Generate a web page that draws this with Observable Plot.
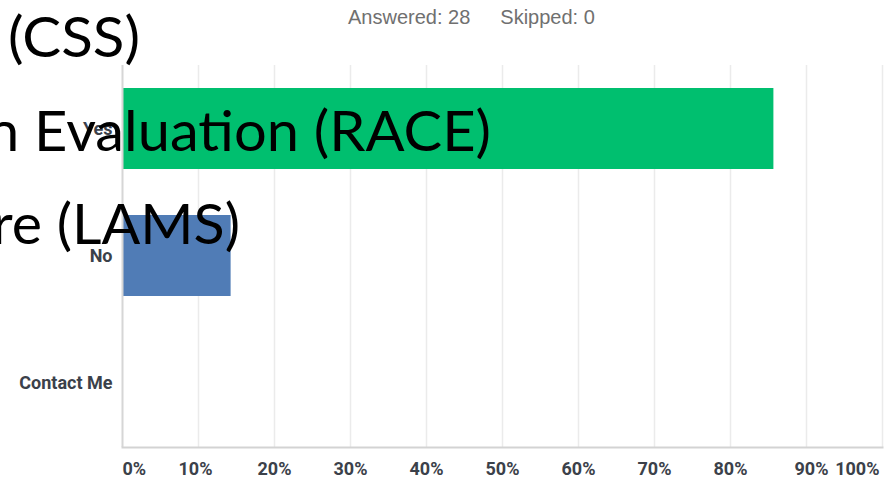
<!DOCTYPE html>
<html>
<head>
<meta charset="utf-8">
<script src="https://cdn.jsdelivr.net/npm/d3@7"></script>
<script src="https://cdn.jsdelivr.net/npm/@observablehq/plot@0.6"></script>
<style>
  html, body { margin: 0; padding: 0; background: #fff; }
  #wrap { position: relative; width: 892px; height: 482px; overflow: hidden; background: #fff; }
  #header { position: absolute; left: 348px; top: 6px; font-family: "Liberation Sans", Arial, sans-serif; font-size: 20px; color: #707070; white-space: nowrap; }
  #header span + span { margin-left: 30px; }
  #overlay { position: absolute; left: 0; top: 0; pointer-events: none; }
</style>
</head>
<body>
<div id="wrap">
  <div id="chart"></div>
  <div id="header"><span>Answered: 28</span><span>Skipped: 0</span></div>
</div>
<script>
// ---- data ----
const categories = ["Yes", "No", "Contact Me"];
const percents = [85.71, 14.29, 0];
const barColors = ["#00BF6F", "#507CB6", "#507CB6"];
const gridTicks = [10, 20, 30, 40, 50, 60, 70, 80, 90, 100];
const tickStart = [0];
const tickMid = [20, 30, 40, 50, 60, 70, 80];
const tickTen = [10];
const tickNinety = [90];
const tickEnd = [100];
const overlayLines = ["(CSS)", "n Evaluation (RACE)", "re (LAMS)"];

const rows = categories.map((c, i) => ({cat: c, pct: percents[i], color: barColors[i]}));
const labelColor = "#3b414a";
const fmt = d => `${d}%`;
const tickText = {fontSize: 18, fontWeight: 700, fill: labelColor, frameAnchor: "bottom", dy: 27};

const chart = Plot.plot({
  width: 892,
  height: 482,
  marginTop: 65,
  marginBottom: 35,
  marginLeft: 122,
  marginRight: 10,
  style: {fontFamily: "Roboto, sans-serif", background: "transparent"},
  x: {domain: [0, 100], axis: null},
  y: {domain: categories, paddingInner: 0.36, paddingOuter: 0.18, axis: null, label: null},
  marks: [
    Plot.ruleX(gridTicks, {stroke: "#ebebeb", strokeWidth: 1.5}),
    Plot.barX(rows, {x: "pct", y: "cat", fill: "color"}),
    Plot.ruleX([0], {stroke: "#d6d6d6", strokeWidth: 2}),
    Plot.frame({anchor: "bottom", stroke: "#d3d3d3", strokeWidth: 2}),
    Plot.axisY({tickSize: 0, tickPadding: 10, fontSize: 18, fontWeight: 700, fill: labelColor, color: labelColor, label: null}),
    Plot.text(tickStart, {x: d => d, text: fmt, textAnchor: "start", ...tickText}),
    Plot.text(tickTen, {x: d => d, text: fmt, dx: -3, ...tickText}),
    Plot.text(tickMid, {x: d => d, text: fmt, ...tickText}),
    Plot.text(tickNinety, {x: d => d, text: fmt, dx: 5, ...tickText}),
    Plot.text(tickEnd, {x: d => d, text: fmt, textAnchor: "end", dx: -3, ...tickText})
  ]
});
document.getElementById("chart").appendChild(chart);

// ---- overlaid slide text (annotation layer) ----
const overlaySpec = [
  {x: 8, y: 57, len: 132},
  {x: -13, y: 151, len: 504},
  {x: -8, y: 244, len: 248}
];
const ov = d3.select("#wrap").append("svg")
  .attr("id", "overlay")
  .attr("width", 892).attr("height", 482);
ov.selectAll("text")
  .data(overlayLines)
  .join("text")
  .attr("x", (d, i) => overlaySpec[i].x)
  .attr("y", (d, i) => overlaySpec[i].y)
  .attr("textLength", (d, i) => overlaySpec[i].len)
  .attr("lengthAdjust", "spacingAndGlyphs")
  .attr("font-family", "Lato, 'Open Sans', sans-serif")
  .attr("font-size", 56)
  .attr("fill", "#000")
  .text(d => d);
</script>
</body>
</html>
